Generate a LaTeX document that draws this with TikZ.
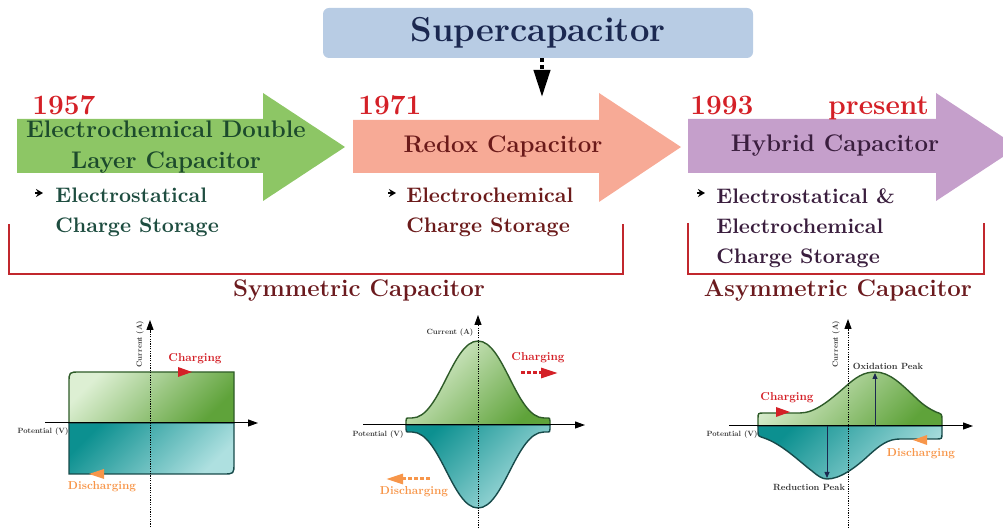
\documentclass[tikz,border=0pt]{standalone}
\usepackage{tikz}
\usetikzlibrary{arrows.meta}

\definecolor{superblue}{HTML}{B8CCE4}
\definecolor{supernavy}{HTML}{1B2850}
\definecolor{edlcgreen}{HTML}{8DC665}
\definecolor{redoxsalmon}{HTML}{F7AA96}
\definecolor{hybridlilac}{HTML}{C59FCB}
\definecolor{yearred}{HTML}{D42027}
\definecolor{bracketred}{HTML}{C1272D}
\definecolor{capmaroon}{HTML}{6B1A1E}
\definecolor{edlctext}{HTML}{1C4A2C}
\definecolor{edlcnote}{HTML}{1E4D40}
\definecolor{redoxtext}{HTML}{6B1A1A}
\definecolor{hybridtext}{HTML}{3A1E3E}
\definecolor{chargered}{HTML}{D42027}
\definecolor{dischargeorange}{HTML}{F7964A}
\definecolor{greenlight}{HTML}{DDEFD3}
\definecolor{greendark}{HTML}{5FA33A}
\definecolor{greenline}{HTML}{2E5B28}
\definecolor{teallight}{HTML}{AEE0E0}
\definecolor{tealdark}{HTML}{0C9090}
\definecolor{tealline}{HTML}{174A4A}
\definecolor{axisgray}{HTML}{333333}

\tikzset{
  year/.style={anchor=base west, inner sep=0pt, text=yearred, font=\fontsize{14}{16}\selectfont\bfseries},
  title/.style={align=center, font=\fontsize{12}{15.5}\selectfont\bfseries},
  note/.style={anchor=north west, inner sep=0pt, align=left, font=\fontsize{10.5}{15}\selectfont\bfseries},
  itemtip/.style={-{Stealth[length=3.5pt,width=4pt]}, line width=0.8pt},
  bracket/.style={draw=bracketred, line width=1pt},
  group/.style={text=capmaroon, font=\fontsize{12}{14}\selectfont\bfseries},
  axis/.style={line width=0.5pt, -{Triangle[length=5pt,width=3.5pt]}},
  vaxis/.style={axis, dash pattern=on 0.6pt off 0.6pt},
  plottext/.style={inner sep=0pt, transform shape, font=\fontsize{10}{12}\selectfont\bfseries},
  tiny/.style={plottext, text=axisgray, scale=0.38},
  peaklabel/.style={plottext, text=axisgray, scale=0.45},
  charge/.style={plottext, text=chargered, scale=0.575},
  discharge/.style={plottext, text=dischargeorange, scale=0.575},
  upperlobe/.style={draw=greenline, line width=0.7pt, top color=greenlight, bottom color=greendark, shading angle=45},
  lowerlobe/.style={draw=tealline, line width=0.7pt, top color=tealdark, bottom color=teallight, shading angle=45},
  peak/.style={draw=supernavy, line width=0.4pt, -{Triangle[length=3pt,width=2.5pt]}},
}

\begin{document}
\begin{tikzpicture}[x=0.5pt, y=-0.5pt]
\path[use as bounding box] (0,0) rectangle (1003,529);
\clip (0,0) rectangle (1003,529);

% top box
\node[fill=superblue, rounded corners=3pt, minimum width=215pt, minimum height=25pt,
      text=supernavy, font=\fontsize{17.3}{20}\selectfont\bfseries] (super) at (538,33) {Supercapacitor};
\coordinate (supertip) at (542,97);
\draw[line width=2pt, dash pattern=on 2pt off 1.2pt, -{Triangle[length=13.5pt,width=8pt]}] (super.south -| supertip) -- (supertip);

% timeline arrows
\fill[edlcgreen] (17,119) -- (263,119) -- (263,93) -- (345,147) -- (263,201) -- (263,173) -- (17,173) -- cycle;
\fill[redoxsalmon] (353,120) -- (599,120) -- (599,93) -- (681,147) -- (599,202) -- (599,173) -- (353,173) -- cycle;
\fill[hybridlilac] (688,119) -- (936,119) -- (936,93) -- (1018,147) -- (936,201) -- (936,173) -- (688,173) -- cycle;

\node[year] (y1957) at (32,115) {1957};
\node[title, text=edlctext] (edlc) at (166,147) {Electrochemical Double\\Layer Capacitor};
\node[note, text=edlcnote] (edlcnote) at (55,188) {Electrostatical\\Charge Storage};
\draw[itemtip] ([xshift=-10pt,yshift=-2.5pt]edlcnote.north west) -- ++(4pt,0);

\node[year] (y1971) at (358,115) {1971};
\node[title, text=redoxtext] (redox) at (503,146) {Redox Capacitor};
\node[note, text=redoxtext] (redoxnote) at (406,188) {Electrochemical\\Charge Storage};
\draw[itemtip] ([xshift=-9pt,yshift=-2.5pt]redoxnote.north west) -- ++(4pt,0);

\node[year] (y1993) at (690,115) {1993};
\node[year] (present) at (828,115) {present};
\node[title, text=hybridtext] (hybrid) at (835,146) {Hybrid Capacitor};
\node[note, text=hybridtext] (hybridnote) at (716,188) {Electrostatical \&\\Electrochemical\\Charge Storage};
\draw[itemtip] ([xshift=-9.5pt,yshift=-2.5pt]hybridnote.north west) -- ++(4pt,0);

% groups
\draw[bracket] (9,224) -- (9,274) -- (623,274) -- (623,224);
\node[group] (sym) at (359,291) {Symmetric Capacitor};
\draw[bracket] (688,223) -- (688,274) -- (984,274) -- (984,223);
\node[group] (asym) at (838,291) {Asymmetric Capacitor};

% plot 1: EDLC
\path[upperlobe] (69,423) -- (69,383) .. controls (69,372) .. (80,372) -- (234,372) -- (234,423) -- cycle;
\path[lowerlobe] (69,423) -- (69,474) -- (223,474) .. controls (234,474) .. (234,463) -- (234,423) -- cycle;
\coordinate (p1w) at (45,423);
\coordinate (p1e) at (258,423);
\coordinate (p1s) at (150,527);
\coordinate (p1n) at (150,320);
\draw[axis] (p1w) -- (p1e);
\draw[vaxis] (p1s) -- (p1n);
\node[tiny, rotate=90] (p1cur) at (140,344) {Current (A)};
\node[tiny] (p1pot) at (43,432) {Potential (V)};
\node[charge] (p1chg) at (195,359) {Charging};
\fill[chargered] (178,367) -- (192,372) -- (178,377) -- cycle;
\node[discharge] (p1dis) at (102,487) {Discharging};
\fill[dischargeorange] (104,469) -- (89,474) -- (104,479) -- cycle;

% plot 2: redox
\path[upperlobe] (406,425) -- (406,421) .. controls (406,418) .. (410,418) -- (412,418)
  .. controls (440,418) and (452,341) .. (478,341) .. controls (504,341) and (516,418) .. (544,418)
  -- (546,418) .. controls (550,418) .. (550,421) -- (550,425) -- cycle;
\path[lowerlobe] (406,425) -- (406,429) .. controls (406,432) .. (410,432) -- (412,432)
  .. controls (440,432) and (452,508) .. (478,508) .. controls (504,508) and (516,432) .. (544,432)
  -- (546,432) .. controls (550,432) .. (550,429) -- (550,425) -- cycle;
\coordinate (p2w) at (363,425);
\coordinate (p2e) at (585,425);
\coordinate (p2s) at (478,528);
\coordinate (p2n) at (478,315);
\draw[axis] (p2w) -- (p2e);
\draw[vaxis] (p2s) -- (p2n);
\node[tiny] (p2cur) at (450,333) {Current (A)};
\node[tiny] (p2pot) at (378,435) {Potential (V)};
\node[charge] (p2chg) at (538,358) {Charging};
\coordinate (p2cs) at (521,373);
\coordinate (p2ce) at (558,373);
\draw[chargered, line width=1.5pt, dash pattern=on 2pt off 1pt, -{Triangle[length=8.5pt,width=5pt]}] (p2cs) -- (p2ce);
\node[discharge] (p2dis) at (414,492) {Discharging};
\coordinate (p2ds) at (430,479);
\coordinate (p2de) at (386,479);
\draw[dischargeorange, line width=1.5pt, dash pattern=on 2pt off 1pt, -{Triangle[length=8.5pt,width=5pt]}] (p2ds) -- (p2de);

% plot 3: hybrid
\path[upperlobe] (758,426) -- (758,419) .. controls (758,413) .. (764,413) -- (800,413)
  .. controls (815,413) and (830,400) .. (845,387) .. controls (856,377) and (864,372) .. (875,372)
  .. controls (890,372) and (902,385) .. (915,397) .. controls (925,407) and (932,410) .. (936,412)
  .. controls (942,414) .. (942,420) -- (942,426) -- cycle;
\path[lowerlobe] (758,426) -- (758,431) .. controls (758,436) .. (764,438)
  .. controls (782,444) and (800,462) .. (812,471) .. controls (818,476) and (822,479) .. (827,479)
  .. controls (840,479) and (855,468) .. (868,456) .. controls (880,445) and (888,439) .. (900,439)
  -- (936,439) .. controls (942,439) .. (942,433) -- (942,426) -- cycle;
\coordinate (p3w) at (729,426);
\coordinate (p3e) at (973,426);
\coordinate (p3s) at (848,528);
\coordinate (p3n) at (848,319);
\draw[axis] (p3w) -- (p3e);
\draw[vaxis] (p3s) -- (p3n);
\coordinate (oxbase) at (875,426);
\coordinate (oxtop) at (875,373);
\draw[peak] (oxbase) -- (oxtop);
\coordinate (redbase) at (827,426);
\coordinate (redtip) at (827,478);
\draw[peak] (redbase) -- (redtip);
\node[tiny, rotate=90] (p3cur) at (836,344) {Current (A)};
\node[tiny] (p3pot) at (732,435) {Potential (V)};
\node[peaklabel] (oxlabel) at (888,366) {Oxidation Peak};
\node[peaklabel] (redlabel) at (809,487) {Reduction Peak};
\node[charge] (p3chg) at (787,398) {Charging};
\fill[chargered] (776,407) -- (790,412) -- (776,417) -- cycle;
\node[discharge] (p3dis) at (921,454) {Discharging};
\fill[dischargeorange] (927,435) -- (913,440) -- (927,445) -- cycle;
\end{tikzpicture}
\end{document}
